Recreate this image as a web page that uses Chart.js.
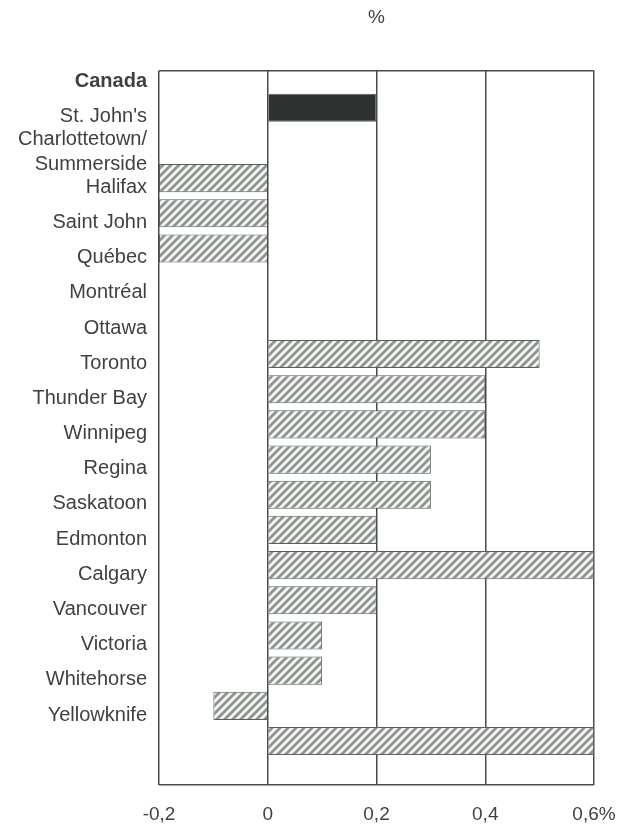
<!DOCTYPE html>
<html>
<head>
<meta charset="utf-8">
<script src="https://cdn.jsdelivr.net/npm/chart.js@4"></script>
<style>
  html, body { margin: 0; padding: 0; background: #fff; }
  #wrap { width: 621px; height: 826px; }
</style>
</head>
<body>
<div id="wrap"><canvas id="cityChart"></canvas></div>
<script>
const cities = ['Canada', "St. John's", ['Charlottetown/', 'Summerside'], 'Halifax', 'Saint John',
  'Québec', 'Montréal', 'Ottawa', 'Toronto', 'Thunder Bay', 'Winnipeg', 'Regina', 'Saskatoon',
  'Edmonton', 'Calgary', 'Vancouver', 'Victoria', 'Whitehorse', 'Yellowknife']
const change = [0.2, 0, -0.2, -0.2, -0.2, 0, 0, 0.5, 0.4, 0.4, 0.3, 0.3, 0.2, 0.6, 0.2, 0.1, 0.1, -0.1, 0.6]
const xTickLabels = ['-0,2', '0', '0,2', '0,4', '0,6%']

const FONT = "'Liberation Sans', Arial, sans-serif"
const TEXT = '#3d423e'
const LINE = '#4a4a4a'
const Y_MIN = -1.05
const Y_MAX = 19.25

function hatch() {
  const s = 8
  const c = document.createElement('canvas')
  c.width = s
  c.height = s
  const g = c.getContext('2d')
  g.fillStyle = '#f3f5f3'
  g.fillRect(0, 0, s, s)
  g.strokeStyle = '#8e958f'
  g.lineWidth = 2.8
  g.beginPath()
  g.moveTo(0, s); g.lineTo(s, 0)
  g.moveTo(-s / 2, s / 2); g.lineTo(s / 2, -s / 2)
  g.moveTo(s / 2, s * 1.5); g.lineTo(s * 1.5, s / 2)
  g.stroke()
  return g.createPattern(c, 'repeat')
}

drawChart()

function drawChart() {
  const pattern = hatch()
  const ctx = document.getElementById('cityChart').getContext('2d')
  new Chart(ctx, {
    type: 'bar',
    data: {
      datasets: [{
        data: change.map((v, i) => ({ x: v, y: i })),
        backgroundColor: change.map((v, i) => i === 0 ? '#2e332f' : pattern),
        borderColor: '#5a605b',
        borderWidth: c => (c.raw && c.raw.x === 0) ? 0 : 1,
        categoryPercentage: 1,
        barPercentage: 0.8
      }]
    },
    options: {
      indexAxis: 'y',
      responsive: true,
      maintainAspectRatio: false,
      animation: false,
      layout: { padding: { left: 0, right: 27, top: 0, bottom: 0 } },
      scales: {
        x: {
          type: 'linear',
          min: -0.2,
          max: 0.6,
          grid: { color: LINE, lineWidth: 1.5, drawTicks: false },
          border: { display: false },
          ticks: {
            stepSize: 0.2,
            padding: 18,
            color: TEXT,
            font: { family: FONT, size: 19 },
            callback: (v, i) => xTickLabels[i]
          },
          afterFit: s => {
            s.height = 41
            s.paddingLeft = 0
            s.paddingRight = 0
          }
        },
        y: {
          type: 'linear',
          reverse: true,
          min: Y_MIN,
          max: Y_MAX,
          offset: false,
          grid: {
            offset: false,
            drawTicks: false,
            lineWidth: 1.5,
            color: c => (c.tick && (c.tick.value === Y_MIN || c.tick.value === Y_MAX)) ? LINE : 'rgba(0,0,0,0)'
          },
          border: { display: false },
          ticks: {
            stepSize: 1,
            autoSkip: false,
            padding: 12,
            labelOffset: -26,
            color: TEXT,
            font: c => ({ family: FONT, size: 20, lineHeight: 1.25, weight: (c.tick && c.tick.value === 0) ? 'bold' : 'normal' }),
            callback: v => (Number.isInteger(v) && cities[v] !== undefined) ? cities[v] : ''
          },
          afterFit: s => {
            s.width = 159
            s.paddingTop = 0
            s.paddingBottom = 0
          }
        }
      },
      plugins: {
        legend: { display: false },
        tooltip: { enabled: false },
        title: {
          display: true,
          text: '%',
          fullSize: false,
          color: TEXT,
          font: { family: FONT, size: 19, weight: 'normal' },
          padding: { top: 6, bottom: 42 }
        }
      }
    }
  })
}
</script>
</body>
</html>
